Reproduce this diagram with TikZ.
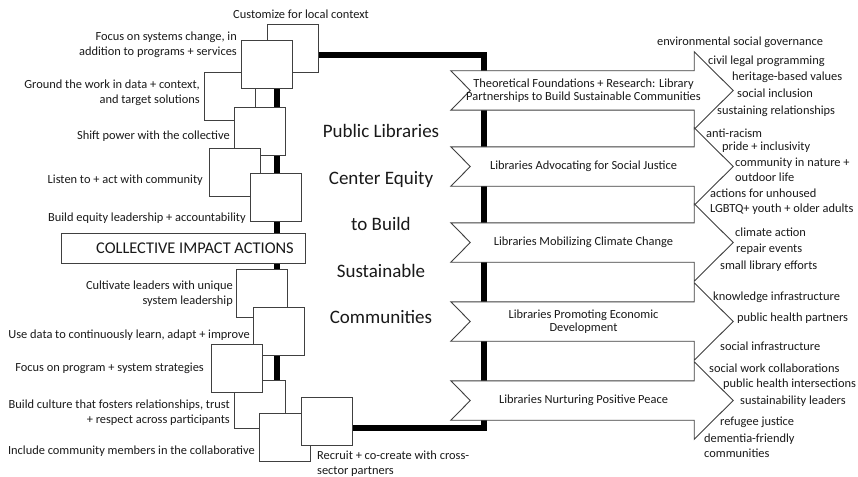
\documentclass[tikz,border=0pt]{standalone}
\usepackage{fontspec}
\setmainfont{Carlito}
\usetikzlibrary{calc}
\newcommand\fslbl{\fontsize{12.4}{15}\selectfont}
\newcommand\fsarr{\fontsize{12.4}{13}\selectfont}
\newcommand\fscia{\fontsize{16.4}{18}\selectfont}
\newcommand\fstitle{\fontsize{19}{46.5}\selectfont}
\begin{document}
\begin{tikzpicture}[x=1pt,y=-1pt,
  sq/.style={draw=black!75, line width=0.9pt, fill=white, minimum width=51pt, minimum height=48pt, inner sep=0pt},
  spine/.style={line width=6pt, black, line join=miter},
  abody/.style={minimum width=243pt, minimum height=39pt, inner sep=0pt},
  aline/.style={draw=black!75, line width=0.9pt, fill=white, line join=miter},
  atext/.style={font=\fsarr, align=center, inner sep=0pt, text=black!90},
  ll/.style={font=\fslbl, align=right, anchor=base east, inner sep=0pt, text=black!90},
  rl/.style={font=\fslbl, align=left, anchor=base west, inner sep=0pt, text=black!90}]
\useasboundingbox (0,0) rectangle (858,476);
% spine loop
\coordinate (s1) at (277,55.5);
\coordinate (s2) at (483.5,55.5);
\coordinate (s3) at (483.5,428);
\coordinate (s4) at (277,428);
\draw[spine] (s1) -- (s2) -- (s3) -- (s4) -- cycle;
% squares
\node[sq] (A) at (292.5,48.5) {};
\node[sq] (C) at (229.5,96.5) {};
\node[sq] (B) at (266.5,64) {};
\node[sq] (D) at (259.5,131.5) {};
\node[sq] (E) at (234.5,172) {};
\node[sq] (F) at (275.5,197.5) {};
\node[draw=black!75, line width=0.9pt, fill=white, minimum width=244pt, minimum height=30pt, inner sep=0pt, font=\fscia, text=black!90] (CIA) at (183,248) {\hspace*{24pt}COLLECTIVE IMPACT ACTIONS};
\node[sq] (G) at (262,293) {};
\node[sq] (H) at (278.5,331.5) {};
\node[sq] (J) at (259.5,404) {};
\node[sq] (I) at (236.5,368) {};
\node[sq] (K) at (284.5,437) {};
\node[sq] (L) at (326.5,421) {};
% left labels
\node[rl] (tA) at (233,19) {Customize for local context};
\node[ll] (tB) at (237,56) {Focus on systems change, in\\addition to programs + services};
\node[ll] (tC) at (200,103) {Ground the work in data + context,\\and target solutions};
\node[ll] (tD) at (230,139) {Shift power with the collective};
\node[ll] (tE) at (203,183) {Listen to + act with community};
\node[ll] (tF) at (246,221) {Build equity leadership + accountability};
\node[ll] (tG) at (233,304) {Cultivate leaders with unique\\system leadership};
\node[ll] (tH) at (250,338) {Use data to continuously learn, adapt + improve};
\node[ll] (tI) at (204,371) {Focus on program + system strategies};
\node[ll] (tJ) at (230,423) {Build culture that fosters relationships, trust\\+ respect across participants};
\node[ll] (tK) at (255,454) {Include community members in the collaborative};
\node[rl] (tL) at (317,474) {Recruit + co-create with cross-\\sector partners};
% title
\node[font=\fstitle, align=center, inner sep=0pt, text=black!90] (title) at (381,224) {Public Libraries\\Center Equity\\to Build\\Sustainable\\Communities};
% arrows
\foreach \n/\y in {1/90.5,2/166.5,3/242.5,4/321.5,5/400.5}{
  \node[abody] (R\n) at (572.5,\y) {};
  \draw[aline] (R\n.north west) -- (R\n.north east) -- ([yshift=19pt]R\n.north east) -- ([xshift=39pt]R\n.east) -- ([yshift=-19pt]R\n.south east) -- (R\n.south east) -- (R\n.south west) -- ([xshift=19.5pt]R\n.west) -- cycle;
}
\node[atext] (T1) at ([xshift=11pt]R1.center) {Theoretical Foundations + Research: Library\\Partnerships to Build Sustainable Communities};
\node[atext] (T2) at ([xshift=11pt]R2.center) {Libraries Advocating for Social Justice};
\node[atext] (T3) at ([xshift=11pt]R3.center) {Libraries Mobilizing Climate Change};
\node[atext] (T4) at ([xshift=11pt]R4.center) {Libraries Promoting Economic\\Development};
\node[atext] (T5) at ([xshift=11pt]R5.center) {Libraries Nurturing Positive Peace};
% right labels
\node[rl] (r1) at (657,46) {environmental social governance};
\node[rl] (r2) at (708,65) {civil legal programming};
\node[rl] (r3) at (732,81) {heritage-based values};
\node[rl] (r4) at (737,98) {social inclusion};
\node[rl] (r5) at (717,114) {sustaining relationships};
\node[rl] (r6) at (706,137) {anti-racism};
\node[rl] (r7) at (722,150) {pride + inclusivity};
\node[rl] (r8) at (735,181) {community in nature +\\outdoor life};
\node[rl] (r9) at (710,212) {actions for unhoused\\LGBTQ+ youth + older adults};
\node[rl] (r10) at (735,236) {climate action};
\node[rl] (r11) at (736,252) {repair events};
\node[rl] (r12) at (720,269) {small library efforts};
\node[rl] (r13) at (713,300) {knowledge infrastructure};
\node[rl] (r14) at (737,321) {public health partners};
\node[rl] (r15) at (720,350) {social infrastructure};
\node[rl] (r16) at (709,372) {social work collaborations};
\node[rl] (r17) at (723,387) {public health intersections};
\node[rl] (r18) at (740,404) {sustainability leaders};
\node[rl] (r19) at (720,425) {refugee justice};
\node[rl] (r20) at (704,457) {dementia-friendly\\communities};
\end{tikzpicture}
\end{document}
